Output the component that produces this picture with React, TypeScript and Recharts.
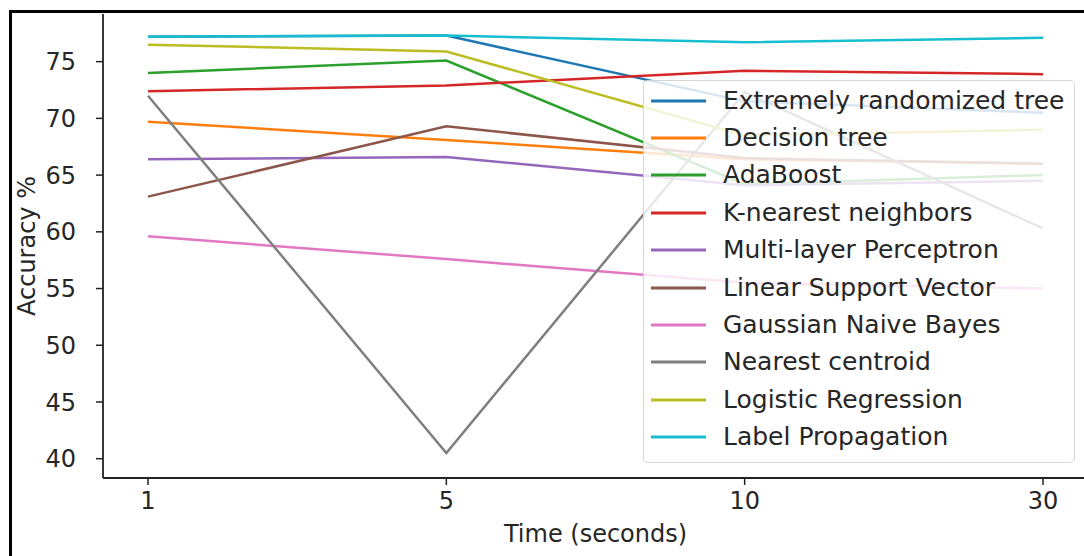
import React from 'react';
import { LineChart, Line, XAxis, YAxis, Legend } from 'recharts';

const times = ['1', '5', '10', '30'];
const yTicks = [40, 45, 50, 55, 60, 65, 70, 75];

const extraTrees = [77.2, 77.3, 71.5, 70.5];
const decisionTree = [69.7, 68.1, 66.4, 66.0];
const adaBoost = [74.0, 75.1, 64.2, 65.0];
const knn = [72.4, 72.9, 74.2, 73.9];
const mlp = [66.4, 66.6, 64.1, 64.5];
const linearSvc = [63.1, 69.3, 66.5, 66.0];
const gaussianNb = [59.6, 57.6, 55.5, 55.0];
const nearestCentroid = [72.0, 40.5, 72.3, 60.3];
const logistic = [76.5, 75.9, 68.5, 69.0];
const labelProp = [77.2, 77.3, 76.7, 77.1];

const seriesNames = [
  'Extremely randomized tree',
  'Decision tree',
  'AdaBoost',
  'K-nearest neighbors',
  'Multi-layer Perceptron',
  'Linear Support Vector',
  'Gaussian Naive Bayes',
  'Nearest centroid',
  'Logistic Regression',
  'Label Propagation',
];
const seriesValues = [
  extraTrees, decisionTree, adaBoost, knn, mlp,
  linearSvc, gaussianNb, nearestCentroid, logistic, labelProp,
];
const seriesColors = [
  '#1f77b4', '#ff7f0e', '#2ca02c', '#d62728', '#9467bd',
  '#8c564b', '#e377c2', '#7f7f7f', '#bcbd22', '#17becf',
];

const data = times.map((t, i) => {
  const row: Record<string, any> = { t };
  seriesValues.forEach((vals, k) => {
    row['s' + k] = vals[i];
  });
  return row;
});

const FONT = "'DejaVu Sans', sans-serif";
const TEXT = '#262626';
const AXIS = '#222';

const renderLegend = () => (
  <div
    style={{
      boxSizing: 'border-box',
      width: 432,
      height: 383,
      background: 'rgba(255,255,255,0.82)',
      border: '1px solid rgba(204,204,204,0.8)',
      borderRadius: 5,
      paddingTop: 1,
      fontFamily: FONT,
    }}
  >
    {seriesNames.map((name, k) => (
      <div
        key={name}
        style={{ display: 'flex', alignItems: 'center', height: 37.4 }}
      >
        <svg width={79} height={10} style={{ flex: 'none' }}>
          <line x1={7} x2={62} y1={5} y2={5} stroke={seriesColors[k]} strokeWidth={3} />
        </svg>
        <span style={{ fontSize: 25, color: TEXT, whiteSpace: 'nowrap', lineHeight: '28px' }}>
          {name}
        </span>
      </div>
    ))}
  </div>
);

export default function App() {
  return (
    <div
      style={{
        position: 'fixed',
        left: 0,
        top: 0,
        width: 1084,
        height: 556,
        overflow: 'hidden',
        background: '#fff',
      }}
    >
      <div
        style={{
          position: 'absolute',
          left: 9,
          top: 10,
          width: 2000,
          height: 2000,
          borderTop: '3px solid #000',
          borderLeft: '3px solid #000',
        }}
      />
      <div style={{ position: 'absolute', left: 8, top: 8 }}>
        <LineChart
          width={1100}
          height={548}
          data={data}
          margin={{ top: 6, right: 20, left: 0, bottom: 0 }}
          style={{ fontFamily: FONT }}
        >
          <XAxis
            dataKey="t"
            type="category"
            padding={{ left: 45, right: 45 }}
            height={78}
            tickSize={7}
            tickMargin={7}
            tick={{ fontSize: 24, fill: TEXT, fontFamily: FONT }}
            tickLine={{ stroke: AXIS, strokeWidth: 1.5 }}
            axisLine={{ stroke: AXIS, strokeWidth: 1.8 }}
            label={{
              value: 'Time (seconds)',
              position: 'insideBottom',
              offset: 14,
              style: { fontSize: 24, fill: TEXT, fontFamily: FONT },
            }}
          />
          <XAxis
            xAxisId="top"
            dataKey="t"
            orientation="top"
            height={0}
            tick={false}
            tickLine={false}
            axisLine={{ stroke: AXIS, strokeWidth: 1.8 }}
          />
          <YAxis
            type="number"
            domain={[38.3, 79.2]}
            allowDataOverflow
            ticks={yTicks}
            width={95}
            tickSize={7}
            tickMargin={20}
            tick={{ fontSize: 24, fill: TEXT, fontFamily: FONT }}
            tickLine={{ stroke: AXIS, strokeWidth: 1.5 }}
            axisLine={{ stroke: AXIS, strokeWidth: 1.8 }}
            label={{
              value: 'Accuracy %',
              angle: -90,
              position: 'insideLeft',
              offset: 18,
              style: { textAnchor: 'middle', fontSize: 24, fill: TEXT, fontFamily: FONT },
            }}
          />
          {seriesNames.map((name, k) => (
            <Line
              key={name}
              type="linear"
              dataKey={'s' + k}
              name={name}
              stroke={seriesColors[k]}
              strokeWidth={2.5}
              dot={false}
              activeDot={false}
              isAnimationActive={false}
            />
          ))}
          <Legend
            layout="vertical"
            align="center"
            verticalAlign="middle"
            width={432}
            height={383}
            content={renderLegend}
            wrapperStyle={{ left: 635, top: 72, width: 432, height: 383 }}
          />
        </LineChart>
      </div>
    </div>
  );
}
